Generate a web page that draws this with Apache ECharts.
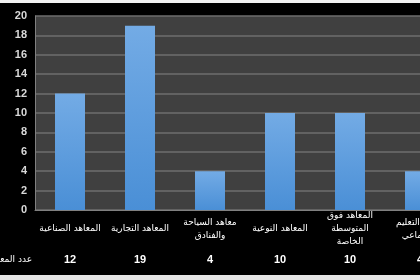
<!DOCTYPE html>
<html>
<head>
<meta charset="utf-8">
<script src="https://cdn.jsdelivr.net/npm/echarts@6/dist/echarts.min.js"></script>
<style>html,body{margin:0;padding:0;background:#000;}#c{width:420px;height:280px;}</style>
</head>
<body>
<div id="c"></div>
<script>
const categories = [
  'المعاهد الصناعية',
  'المعاهد التجارية',
  'معاهد السياحة\nوالفنادق',
  'المعاهد النوعية',
  'المعاهد فوق\nالمتوسطة\nالخاصة',
  'معاهد التعليم\nالاجتماعي'
];
const counts = [12, 19, 4, 10, 10, 4];
const rowHeader = 'عدد المعاهد';
const yTicks = { min: 0, max: 20, interval: 2 };

const chart = echarts.init(document.getElementById('c'), null, { renderer: 'canvas' });
chart.setOption({
  backgroundColor: '#000',
  animation: false,
  graphic: [
    { type: 'rect', shape: { x: 0, y: 0, width: 420, height: 3 }, style: { fill: '#f2f2f2' }, z: 100 },
    { type: 'rect', shape: { x: 0, y: 275, width: 420, height: 5 }, style: { fill: '#e6e6e6' }, z: 100 }
  ],
  grid: {
    left: 35, top: 16, width: 420, height: 194,
    containLabel: false, outerBoundsMode: 'none',
    show: true, backgroundColor: '#404040', borderWidth: 0
  },
  xAxis: [
    {
      type: 'category',
      data: categories,
      position: 'bottom',
      axisLine: { show: true, lineStyle: { color: '#808080', width: 1 } },
      axisTick: { show: false },
      axisLabel: {
        color: '#ffffff', fontSize: 9, fontFamily: 'DejaVu Sans',
        margin: 19, verticalAlign: 'middle', lineHeight: 13, interval: 0,
        hideOverlap: false
      }
    },
    {
      type: 'category',
      data: counts.map(String),
      position: 'bottom',
      offset: 50,
      name: rowHeader,
      nameLocation: 'start',
      nameGap: 3,
      nameTextStyle: { color: '#ffffff', fontSize: 9, fontFamily: 'DejaVu Sans', verticalAlign: 'middle' },
      axisLine: { show: false },
      axisTick: { show: false },
      axisLabel: {
        color: '#ffffff', fontSize: 11, fontWeight: 'bold', fontFamily: 'Liberation Sans',
        margin: 0, verticalAlign: 'middle', interval: 0
      }
    }
  ],
  yAxis: {
    type: 'value',
    min: yTicks.min, max: yTicks.max, interval: yTicks.interval,
    axisLine: { show: true, lineStyle: { color: '#808080', width: 1 } },
    axisTick: { show: false },
    splitLine: { show: true, lineStyle: { color: '#6e6e6e', width: 1.5 } },
    axisLabel: { color: '#d9d9d9', fontSize: 11, fontWeight: 'bold', fontFamily: 'Liberation Sans', margin: 8 }
  },
  series: [{
    type: 'bar',
    xAxisIndex: 0,
    data: counts,
    barWidth: 30,
    itemStyle: {
      color: new echarts.graphic.LinearGradient(0, 0, 0, 1, [
        { offset: 0, color: '#73abe5' },
        { offset: 1, color: '#4a8fd6' }
      ])
    }
  }]
});
</script>
</body>
</html>
